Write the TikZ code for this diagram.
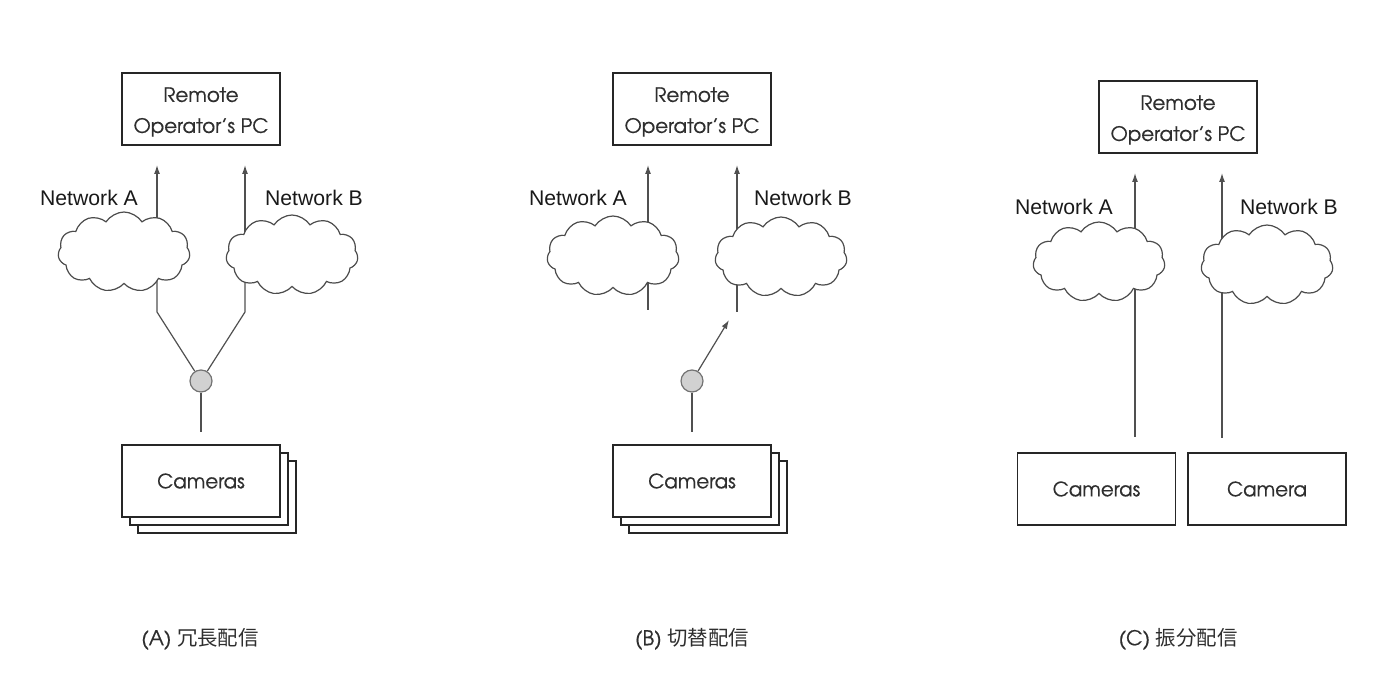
\documentclass[tikz,border=0pt]{standalone}
\usepackage{fontspec}
\setmainfont{TeX Gyre Adventor}[FakeBold=0.5]
\newfontfamily\arialf{Liberation Sans}
\newfontfamily\cjk{Noto Sans CJK JP}
\usetikzlibrary{shapes.symbols,arrows.meta,backgrounds}
\definecolor{ink}{HTML}{2E2E2E}
\definecolor{ln}{HTML}{505050}
\newcommand{\toppad}{\rule{0pt}{10.3pt}}
\tikzset{
  box/.style={draw=black!85, line width=0.8pt, fill=white, minimum width=79pt, minimum height=36pt,
    align=center, text=ink, inner sep=0pt, font=\fontsize{9.9}{15.5}\selectfont},
  netcloud/.style={cloud, cloud puffs=11, cloud puff arc=115, aspect=1.65, draw=black!70, fill=white,
    line width=0.6pt, minimum width=66pt, minimum height=40pt, inner sep=0pt},
  sw/.style={circle, draw=black!55, fill=black!18, line width=0.6pt, minimum size=11pt, inner sep=0pt},
  wire/.style={draw=ln, line width=0.6pt},
  arr/.style={wire, -{Latex[length=4.5pt,width=3pt]}},
  netlabel/.style={font=\arialf\fontsize{10.6}{12}\selectfont, text=black!90, inner sep=0pt},
  caption/.style={font=\fontsize{10.2}{12}\selectfont, text=ink, inner sep=0pt}
}
\begin{document}
\begin{tikzpicture}[x=0.5pt,y=-0.5pt]
\useasboundingbox (0,0) rectangle (1400,688);

% ---------------- Panel A ----------------
\node[box] (pcA) at (201,109) {\toppad Remote\\Operator's PC};
\node[netcloud] (cA1) at (124,252) {};
\node[netcloud] (cA2) at (292,255) {};
\node[netlabel] (nA1) at (89,198) {Network A};
\node[netlabel] (nA2) at (314,198) {Network B};
\node[sw] (sA) at (201,381) {};
\node[box] (camA3) at (217,497) {};
\node[box] (camA2) at (209,489) {};
\node[box] (camA) at (201,481) {Cameras};
\coordinate (tA1) at (157,165);
\coordinate (tA2) at (245,165);
\coordinate (jA1) at (157,312);
\coordinate (jA2) at (245,312);
\coordinate (bA) at (201,432);
\begin{scope}[on background layer]
  \draw[arr] (tA1 |- cA1.center) -- (tA1);
  \draw[arr] (tA2 |- cA2.center) -- (tA2);
  \draw[wire] (jA1 |- cA1.center) -- (jA1) -- (sA);
  \draw[wire] (jA2 |- cA2.center) -- (jA2) -- (sA);
\end{scope}
\draw[wire] (sA) -- (bA);
\node[caption] (capA) at (200,639) {(A) {\cjk 冗長配信}};

% ---------------- Panel B ----------------
\node[box] (pcB) at (692,109) {\toppad Remote\\Operator's PC};
\node[netcloud] (cB1) at (613,256) {};
\node[netcloud] (cB2) at (781,257) {};
\node[netlabel] (nB1) at (578,198) {Network A};
\node[netlabel] (nB2) at (803,198) {Network B};
\node[sw] (sB) at (692,381) {};
\node[box] (camB3) at (708,497) {};
\node[box] (camB2) at (700,489) {};
\node[box] (camB) at (692,481) {Cameras};
\coordinate (tB1) at (648,165);
\coordinate (tB2) at (737,165);
\coordinate (jB1) at (648,310);
\coordinate (jB2) at (737,312);
\coordinate (swB) at (729,320);
\coordinate (bB) at (692,432);
\begin{scope}[on background layer]
  \draw[arr] (tB1 |- cB1.center) -- (tB1);
  \draw[arr] (tB2 |- cB2.center) -- (tB2);
  \draw[wire] (jB1 |- cB1.center) -- (jB1);
  \draw[wire] (jB2 |- cB2.center) -- (jB2);
\end{scope}
\draw[arr] (sB) -- (swB);
\draw[wire] (sB) -- (bB);
\node[caption] (capB) at (692,639) {(B) {\cjk 切替配信}};

% ---------------- Panel C ----------------
\node[box] (pcC) at (1178,117) {\toppad Remote\\Operator's PC};
\node[netcloud] (cC1) at (1099,262) {};
\node[netcloud] (cC2) at (1267,265) {};
\node[netlabel] (nC1) at (1064,207) {Network A};
\node[netlabel] (nC2) at (1289,207) {Network B};
\node[box] (camC1) at (1096.5,489) {Cameras};
\node[box] (camC2) at (1267,489) {Camera};
\coordinate (tC1) at (1135,173);
\coordinate (tC2) at (1222,173);
\coordinate (bC1) at (1135,437);
\coordinate (bC2) at (1222,438);
\begin{scope}[on background layer]
  \draw[arr] (tC1 |- cC1.center) -- (tC1);
  \draw[arr] (tC2 |- cC2.center) -- (tC2);
  \draw[wire] (bC1 |- cC1.center) -- (bC1);
  \draw[wire] (bC2 |- cC2.center) -- (bC2);
\end{scope}
\node[caption] (capC) at (1178,639) {(C) {\cjk 振分配信}};
\end{tikzpicture}
\end{document}
